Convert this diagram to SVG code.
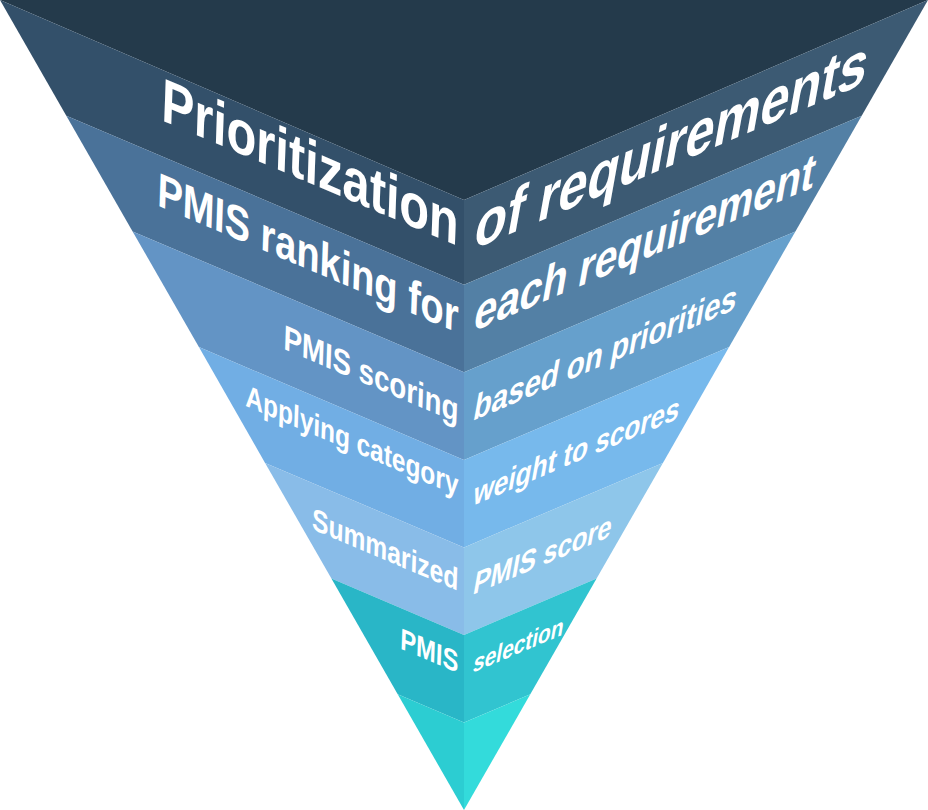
<svg xmlns="http://www.w3.org/2000/svg" width="928" height="810" viewBox="0 0 928 810">
  <style>
    .t { font-family: "Liberation Sans", Arial, sans-serif; font-weight: bold; fill: #ffffff; }
    .l { text-anchor: end; }
    .r { text-anchor: start; }
  </style>
  <rect width="928" height="810" fill="#ffffff"/>
  <g id="layer0">
    <polygon points="0,0 464,0 464,200" fill="#243a4b"/>
    <polygon points="464,0 928,0 464,200" fill="#243a4b"/>
  </g>
  <g id="layer1">
    <polygon points="0,0 464,200 464,284.7 66.3,115.7" fill="#33506a"/>
    <polygon points="928,0 464,200 464,284.7 861.7,115.7" fill="#3c5a73"/>
    <text class="t l" font-size="48.6" transform="translate(458,246) skewY(23) skewX(-2) scale(1,1.28)">Prioritization</text>
    <text class="t r" font-size="51.9" transform="translate(472,250) skewY(-23) skewX(-11) scale(1,1.18)">of requirements</text>
  </g>
  <g id="layer2">
    <polygon points="66.3,115.7 464,284.7 464,372.3 132.6,231.4" fill="#4a7299"/>
    <polygon points="861.7,115.7 464,284.7 464,372.3 795.4,231.4" fill="#5380a5"/>
    <text class="t l" font-size="37.9" transform="translate(458,333) skewY(23) skewX(-2) scale(1,1.28)">PMIS ranking for</text>
    <text class="t r" font-size="40.8" transform="translate(472,332) skewY(-23) skewX(-11) scale(1,1.18)">each requirement</text>
  </g>
  <g id="layer3">
    <polygon points="132.6,231.4 464,372.3 464,459.9 198.9,347.1" fill="#6394c5"/>
    <polygon points="795.4,231.4 464,372.3 464,459.9 729.1,347.1" fill="#66a0cc"/>
    <text class="t l" font-size="27.6" transform="translate(458,423) skewY(23) skewX(-2) scale(1,1.28)">PMIS scoring</text>
    <text class="t r" font-size="29.4" transform="translate(472,421) skewY(-23) skewX(-11) scale(1,1.18)">based on priorities</text>
  </g>
  <g id="layer4">
    <polygon points="198.9,347.1 464,459.9 464,547.4 265.1,462.9" fill="#71aee4"/>
    <polygon points="729.1,347.1 464,459.9 464,547.4 662.9,462.9" fill="#77b9ec"/>
    <text class="t l" font-size="24.4" transform="translate(458,496) skewY(23) skewX(-2) scale(1,1.28)">Applying category</text>
    <text class="t r" font-size="26.1" transform="translate(472,506) skewY(-23) skewX(-11) scale(1,1.18)">weight to scores</text>
  </g>
  <g id="layer5">
    <polygon points="265.1,462.9 464,547.4 464,634.9 331.4,578.6" fill="#89bce8"/>
    <polygon points="662.9,462.9 464,547.4 464,634.9 596.6,578.6" fill="#8ec6ea"/>
    <text class="t l" font-size="24.6" transform="translate(458,591) skewY(23) skewX(-2) scale(1,1.28)">Summarized</text>
    <text class="t r" font-size="25.6" transform="translate(472,595) skewY(-23) skewX(-11) scale(1,1.18)">PMIS score</text>
  </g>
  <g id="layer6">
    <polygon points="331.4,578.6 464,634.9 464,722.5 397.7,694.3" fill="#29b6c7"/>
    <polygon points="596.6,578.6 464,634.9 464,722.5 530.3,694.3" fill="#31c4d0"/>
    <text class="t l" font-size="23.7" transform="translate(458,673) skewY(23) skewX(-2) scale(1,1.28)">PMIS</text>
    <text class="t r" font-size="20.8" transform="translate(472,673) skewY(-23) skewX(-11) scale(1,1.18)">selection</text>
  </g>
  <g id="layer7">
    <polygon points="397.7,694.3 464,722.5 464,810" fill="#2ccdd2"/>
    <polygon points="530.3,694.3 464,722.5 464,810" fill="#33dbdb"/>
  </g>
  <g id="connectors"></g>
</svg>
